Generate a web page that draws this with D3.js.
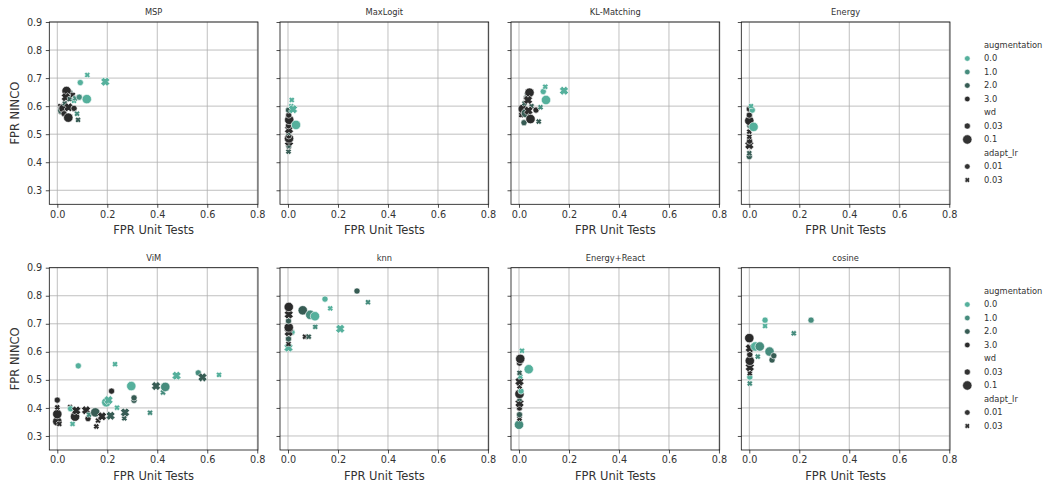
<!DOCTYPE html>
<html>
<head>
<meta charset="utf-8">
<script src="https://cdn.jsdelivr.net/npm/d3@7"></script>
<style>
  body { margin: 0; background: #fff; }
  svg { display: block; font-family: "DejaVu Sans", sans-serif; }
</style>
</head>
<body>
<div id="chart"></div>
<script>
// panels, in plot order
const methods = ["MSP", "MaxLogit", "KL-Matching", "Energy", "ViM", "knn", "Energy+React", "cosine"];
const augLevels = [0, 1, 2, 3];
const wdLevels = [0.03, 0.1];
const lrLevels = [0.01, 0.03];
const xTicks = [0, 0.2, 0.4, 0.6, 0.8];
const yTicks = [0.3, 0.4, 0.5, 0.6, 0.7, 0.8, 0.9];

// each row: [FPR Unit Tests, FPR NINCO, augmentation, wd, adapt_lr]
const msp = [
    [0.012, 0.600, 3, 0.03, 0.03], [0.015, 0.580, 3, 0.03, 0.03], [0.020, 0.585, 2, 0.1, 0.01],
    [0.025, 0.592, 3, 0.1, 0.01], [0.027, 0.573, 3, 0.03, 0.01], [0.030, 0.610, 2, 0.03, 0.03],
    [0.040, 0.640, 3, 0.03, 0.01], [0.045, 0.645, 2, 0.1, 0.01], [0.037, 0.654, 3, 0.1, 0.01],
    [0.034, 0.632, 3, 0.1, 0.03], [0.050, 0.625, 2, 0.03, 0.03], [0.062, 0.640, 3, 0.03, 0.03],
    [0.045, 0.596, 3, 0.1, 0.03], [0.067, 0.592, 3, 0.03, 0.01], [0.079, 0.573, 1, 0.03, 0.03],
    [0.044, 0.559, 3, 0.1, 0.01], [0.083, 0.551, 2, 0.03, 0.03], [0.067, 0.619, 0, 0.03, 0.03],
    [0.072, 0.628, 1, 0.03, 0.03], [0.088, 0.632, 1, 0.03, 0.01], [0.118, 0.625, 0, 0.1, 0.01],
    [0.092, 0.684, 0, 0.03, 0.01], [0.120, 0.711, 0, 0.03, 0.03], [0.192, 0.687, 0, 0.1, 0.03]
];
const maxLogit = [
    [0.002, 0.438, 2, 0.03, 0.03], [0.003, 0.456, 3, 0.03, 0.03], [0.003, 0.460, 2, 0.03, 0.01],
    [0.004, 0.473, 3, 0.1, 0.03], [0.004, 0.485, 3, 0.1, 0.01], [0.003, 0.494, 3, 0.03, 0.01],
    [0.002, 0.505, 2, 0.03, 0.03], [0.004, 0.517, 3, 0.1, 0.03], [0.002, 0.530, 3, 0.03, 0.01],
    [0.005, 0.551, 3, 0.1, 0.01], [0.003, 0.568, 3, 0.03, 0.01], [0.002, 0.586, 2, 0.03, 0.01],
    [0.032, 0.533, 0, 0.1, 0.01], [0.013, 0.600, 0, 0.03, 0.03], [0.020, 0.589, 0, 0.1, 0.03],
    [0.015, 0.622, 0, 0.03, 0.03]
];
const klMatching = [
    [0.009, 0.568, 3, 0.03, 0.03], [0.015, 0.590, 3, 0.1, 0.01], [0.020, 0.541, 2, 0.03, 0.01],
    [0.022, 0.610, 2, 0.03, 0.03], [0.028, 0.575, 2, 0.1, 0.01], [0.030, 0.630, 3, 0.03, 0.01],
    [0.032, 0.640, 2, 0.03, 0.03], [0.050, 0.600, 2, 0.03, 0.03], [0.042, 0.648, 3, 0.1, 0.01],
    [0.036, 0.622, 3, 0.1, 0.03], [0.038, 0.584, 3, 0.1, 0.03], [0.068, 0.586, 3, 0.03, 0.01],
    [0.046, 0.554, 3, 0.1, 0.01], [0.079, 0.545, 2, 0.03, 0.03], [0.086, 0.596, 1, 0.03, 0.03],
    [0.097, 0.652, 0, 0.03, 0.01], [0.105, 0.669, 0, 0.03, 0.03], [0.108, 0.622, 0, 0.1, 0.01],
    [0.180, 0.655, 0, 0.1, 0.03]
];
const energy = [
    [0.000, 0.420, 2, 0.03, 0.01], [0.000, 0.432, 2, 0.03, 0.03], [0.000, 0.461, 3, 0.1, 0.03],
    [0.001, 0.475, 3, 0.03, 0.01], [0.000, 0.491, 3, 0.03, 0.03], [0.000, 0.509, 3, 0.03, 0.03],
    [0.002, 0.530, 2, 0.03, 0.01], [0.002, 0.560, 2, 0.03, 0.03], [0.000, 0.548, 3, 0.1, 0.01],
    [0.000, 0.568, 3, 0.03, 0.01], [0.000, 0.590, 3, 0.03, 0.01], [0.017, 0.526, 0, 0.1, 0.01],
    [0.012, 0.586, 0, 0.03, 0.01], [0.007, 0.600, 0, 0.03, 0.03]
];
const vim = [
    [0.000, 0.352, 3, 0.1, 0.01], [0.008, 0.343, 3, 0.03, 0.03], [0.000, 0.378, 3, 0.1, 0.01],
    [0.000, 0.402, 3, 0.03, 0.03], [0.000, 0.428, 3, 0.03, 0.01], [0.051, 0.403, 3, 0.03, 0.03],
    [0.053, 0.397, 0, 0.03, 0.01], [0.061, 0.343, 0, 0.03, 0.03], [0.071, 0.369, 3, 0.1, 0.01],
    [0.076, 0.391, 3, 0.1, 0.03], [0.115, 0.392, 3, 0.1, 0.03], [0.123, 0.362, 3, 0.03, 0.01],
    [0.127, 0.376, 1, 0.03, 0.03], [0.152, 0.384, 2, 0.1, 0.01], [0.156, 0.334, 3, 0.03, 0.03],
    [0.163, 0.355, 3, 0.03, 0.03], [0.179, 0.370, 3, 0.1, 0.03], [0.213, 0.372, 2, 0.1, 0.03],
    [0.196, 0.420, 0, 0.1, 0.01], [0.205, 0.428, 0, 0.1, 0.03], [0.217, 0.460, 3, 0.03, 0.01],
    [0.239, 0.401, 0, 0.03, 0.03], [0.268, 0.363, 2, 0.03, 0.03], [0.271, 0.384, 2, 0.1, 0.03],
    [0.307, 0.427, 2, 0.03, 0.01], [0.307, 0.436, 2, 0.03, 0.01], [0.371, 0.383, 1, 0.03, 0.03],
    [0.084, 0.550, 0, 0.03, 0.01], [0.231, 0.556, 0, 0.03, 0.03], [0.296, 0.478, 0, 0.1, 0.01],
    [0.395, 0.478, 2, 0.1, 0.03], [0.423, 0.455, 1, 0.03, 0.03], [0.432, 0.475, 1, 0.1, 0.01],
    [0.477, 0.515, 0, 0.1, 0.03], [0.564, 0.525, 1, 0.03, 0.01], [0.581, 0.509, 2, 0.1, 0.03],
    [0.647, 0.518, 0, 0.03, 0.03]
];
const knn = [
    [0.002, 0.615, 0, 0.1, 0.03], [0.002, 0.628, 3, 0.03, 0.03], [0.002, 0.646, 2, 0.03, 0.01],
    [0.016, 0.670, 0, 0.03, 0.01], [0.003, 0.670, 3, 0.1, 0.03], [0.003, 0.687, 3, 0.1, 0.01],
    [0.002, 0.710, 2, 0.03, 0.01], [0.003, 0.733, 3, 0.1, 0.03], [0.003, 0.760, 3, 0.1, 0.01],
    [0.068, 0.654, 3, 0.03, 0.03], [0.083, 0.654, 2, 0.03, 0.03], [0.109, 0.689, 1, 0.03, 0.03],
    [0.209, 0.682, 0, 0.1, 0.03], [0.059, 0.748, 2, 0.1, 0.01], [0.089, 0.732, 1, 0.1, 0.01],
    [0.108, 0.727, 0, 0.1, 0.01], [0.169, 0.755, 0, 0.03, 0.03], [0.148, 0.788, 0, 0.03, 0.01],
    [0.276, 0.817, 2, 0.03, 0.01], [0.320, 0.777, 1, 0.03, 0.03]
];
const energyReact = [
    [0.000, 0.340, 1, 0.1, 0.01], [0.002, 0.362, 3, 0.03, 0.03], [0.002, 0.376, 2, 0.03, 0.01],
    [0.002, 0.400, 3, 0.03, 0.01], [0.002, 0.417, 3, 0.1, 0.03], [0.002, 0.432, 2, 0.03, 0.03],
    [0.002, 0.450, 3, 0.1, 0.01], [0.008, 0.460, 0, 0.03, 0.01], [0.002, 0.477, 3, 0.03, 0.03],
    [0.002, 0.494, 3, 0.1, 0.03], [0.005, 0.512, 0, 0.03, 0.03], [0.002, 0.525, 2, 0.03, 0.03],
    [0.002, 0.560, 3, 0.03, 0.01], [0.005, 0.575, 3, 0.1, 0.01], [0.039, 0.538, 0, 0.1, 0.01],
    [0.012, 0.604, 0, 0.03, 0.03]
];
const cosine = [
    [0.002, 0.487, 1, 0.03, 0.03], [0.002, 0.510, 0, 0.03, 0.01], [0.002, 0.524, 3, 0.03, 0.03],
    [0.002, 0.545, 3, 0.1, 0.03], [0.002, 0.568, 3, 0.1, 0.01], [0.002, 0.590, 3, 0.03, 0.01],
    [0.002, 0.613, 3, 0.1, 0.03], [0.000, 0.649, 3, 0.1, 0.01], [0.024, 0.619, 0, 0.1, 0.01],
    [0.042, 0.619, 1, 0.1, 0.01], [0.034, 0.583, 1, 0.03, 0.03], [0.081, 0.601, 1, 0.1, 0.01],
    [0.091, 0.571, 2, 0.03, 0.01], [0.098, 0.586, 2, 0.03, 0.01], [0.063, 0.713, 0, 0.03, 0.01],
    [0.063, 0.692, 0, 0.03, 0.03], [0.178, 0.666, 1, 0.03, 0.03], [0.247, 0.713, 1, 0.03, 0.01]
];
const panels = [msp, maxLogit, klMatching, energy, vim, knn, energyReact, cosine];

const width = 1053;
const height = 491;
const panelLeft = [49.3, 280, 511, 741.3];
const rowTop = [22, 267.7];
const panelW = 208.7;
const panelH = 182.3;

const color = d3.scaleOrdinal().domain(augLevels)
    .range(["#55b09c", "#468c7d", "#375c54", "#2b2b2b"]);
const size = d3.scaleOrdinal().domain(wdLevels).range([6.2, 9.4]);

const x = d3.scaleLinear().domain([-0.032, 0.803]).range([0, panelW]);
const y = d3.scaleLinear().domain([0.25, 0.9]).range([panelH, 0]);

// matplotlib's filled "X" marker: a plus turned 45 degrees
function xMarker(s) {
    const a = s / 2, b = s / 4.6, c = Math.SQRT1_2;
    const pts = [[-b, -a], [b, -a], [b, -b], [a, -b], [a, b], [b, b], [b, a], [-b, a], [-b, b], [-a, b], [-a, -b], [-b, -b]];
    return "M" + pts.map(([px, py]) => [((px - py) * c).toFixed(2), ((px + py) * c).toFixed(2)].join(",")).join("L") + "Z";
}
function circleMarker(s) {
    const r = s / 2;
    return `M${-r},0A${r},${r} 0 1,0 ${r},0A${r},${r} 0 1,0 ${-r},0Z`;
}
function marker(lr, s) {
    return lr === lrLevels[0] ? circleMarker(s) : xMarker(s * 0.95);
}

const svg = d3.select("#chart").append("svg")
    .attr("width", width)
    .attr("height", height)
    .attr("viewBox", [0, 0, width, height]);

methods.forEach((name, i) => {
    const row = Math.floor(i / 4), col = i % 4;
    const g = svg.append("g")
        .attr("transform", `translate(${panelLeft[col]},${rowTop[row]})`);

    // grid
    g.append("g")
        .selectAll("line")
        .data(xTicks)
        .join("line")
        .attr("x1", d => x(d)).attr("x2", d => x(d))
        .attr("y1", 0).attr("y2", panelH)
        .attr("stroke", "#b0b0b0").attr("stroke-width", 0.8);
    g.append("g")
        .selectAll("line")
        .data(yTicks)
        .join("line")
        .attr("y1", d => y(d)).attr("y2", d => y(d))
        .attr("x1", 0).attr("x2", panelW)
        .attr("stroke", "#b0b0b0").attr("stroke-width", 0.8);

    // points
    g.append("g")
        .selectAll("path")
        .data(panels[i])
        .join("path")
        .attr("transform", d => `translate(${x(d[0])},${y(d[1])})`)
        .attr("d", d => marker(d[4], size(d[3])))
        .attr("fill", d => color(d[2]))
        .attr("stroke", "white")
        .attr("stroke-width", 0.6);

    // axes
    g.append("g")
        .attr("transform", `translate(0,${panelH})`)
        .call(d3.axisBottom(x).tickValues(xTicks).tickFormat(d3.format(".1f")).tickSize(3.5).tickPadding(3))
        .call(a => a.select(".domain").remove())
        .call(a => a.selectAll("text").attr("font-size", 9.7).attr("fill", "#333").attr("font-family", "DejaVu Sans"))
        .call(a => a.selectAll(".tick line").attr("stroke", "#222").attr("stroke-width", 0.8));
    g.append("g")
        .call(d3.axisLeft(y).tickValues(yTicks).tickFormat(col === 0 ? d3.format(".1f") : "").tickSize(3.5).tickPadding(3.5))
        .call(a => a.select(".domain").remove())
        .call(a => a.selectAll("text").attr("font-size", 9.7).attr("fill", "#333").attr("font-family", "DejaVu Sans"))
        .call(a => a.selectAll(".tick line").attr("stroke", "#222").attr("stroke-width", 0.8));

    // frame
    g.append("rect")
        .attr("width", panelW).attr("height", panelH)
        .attr("fill", "none").attr("stroke", "#111").attr("stroke-width", 0.8);

    g.append("text")
        .attr("x", panelW / 2).attr("y", -7)
        .attr("text-anchor", "middle")
        .attr("font-size", 8.3).attr("fill", "#333")
        .text(name);

    g.append("text")
        .attr("x", panelW / 2).attr("y", panelH + 30)
        .attr("text-anchor", "middle")
        .attr("font-size", 11.5).attr("fill", "#333")
        .text("FPR Unit Tests");

    if (col === 0) {
        g.append("text")
            .attr("transform", `translate(${19 - panelLeft[0]},${panelH / 2}) rotate(-90)`)
            .attr("text-anchor", "middle")
            .attr("font-size", 11.5).attr("fill", "#333")
            .text("FPR NINCO");
    }
});

// legends, one per row
const legendItems = [
    { head: "augmentation" },
    ...augLevels.map(a => ({ label: a.toFixed(1), fill: color(a), s: 5.6, lr: 0.01 })),
    { head: "wd" },
    ...wdLevels.map(w => ({ label: String(w), fill: "#333", s: size(w), lr: 0.01 })),
    { head: "adapt_lr" },
    ...lrLevels.map(l => ({ label: String(l), fill: "#333", s: 5.6, lr: l }))
];

rowTop.forEach((top, r) => {
    const lg = svg.append("g")
        .attr("transform", `translate(0,${45 + r * 246})`);
    const item = lg.selectAll("g")
        .data(legendItems)
        .join("g")
        .attr("transform", (d, i) => `translate(0,${i * 13.5})`);
    item.filter(d => !d.head).append("path")
        .attr("transform", "translate(967.3,0)")
        .attr("d", d => marker(d.lr, d.s))
        .attr("fill", d => d.fill)
        .attr("stroke", "white")
        .attr("stroke-width", 0.6);
    item.append("text")
        .attr("x", 984)
        .attr("dy", "0.35em")
        .attr("font-size", 8.3).attr("fill", "#333")
        .text(d => d.head || d.label);
});
</script>
</body>
</html>
